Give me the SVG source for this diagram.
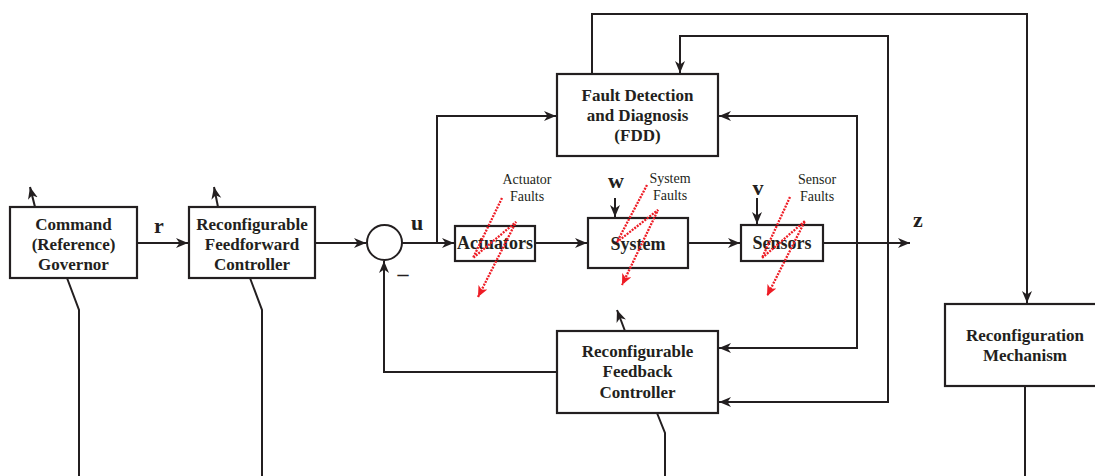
<svg xmlns="http://www.w3.org/2000/svg" width="1095" height="476" viewBox="0 0 1095 476">
<style>
.box{fill:#fff;stroke:#231f20;stroke-width:2.2}
.ln{fill:none;stroke:#231f20;stroke-width:2}
.arr{fill:none;stroke:#231f20;stroke-width:2;marker-end:url(#ah)}
.flt{fill:none;stroke:#ee1c25;stroke-width:2.3;stroke-dasharray:2 1.2;marker-end:url(#rh)}
.t{font-family:"Liberation Serif","Times New Roman",serif;font-weight:bold;font-size:17px;fill:#231f20;text-anchor:middle}
.big{font-size:18px}
.var{font-family:"Liberation Serif","Times New Roman",serif;font-weight:bold;font-size:22px;fill:#231f20;text-anchor:middle}
.f{font-family:"Liberation Serif","Times New Roman",serif;font-size:14px;fill:#231f20;text-anchor:middle}
</style>
<defs>
<marker id="ah" markerUnits="userSpaceOnUse" markerWidth="13" markerHeight="11" refX="12" refY="5" orient="auto">
<path d="M0,0 L12,5 L0,10 L3.5,5 Z" fill="#231f20"/>
</marker>
<marker id="rh" markerUnits="userSpaceOnUse" markerWidth="13" markerHeight="11" refX="11" refY="5" orient="auto">
<path d="M0,0 L11,5 L0,10 L3,5 Z" fill="#ee1c25"/>
</marker>
</defs>
<rect width="1095" height="476" fill="#fff"/>

<g id="connectors">
<line class="arr" x1="35" y1="207" x2="30" y2="187"/>
<polyline class="ln" points="67,278 79,310 79,476"/>
<line class="arr" x1="218" y1="207" x2="214" y2="187"/>
<polyline class="ln" points="250,278 262,310 262,476"/>
<line class="arr" x1="137" y1="243" x2="188" y2="243"/>
<line class="arr" x1="315" y1="243" x2="366" y2="243"/>
<line class="arr" x1="402" y1="243" x2="454" y2="243"/>
<polyline class="arr" points="437,243 437,116 556,116"/>
<line class="arr" x1="535" y1="243" x2="587" y2="243"/>
<line class="arr" x1="688" y1="243" x2="740" y2="243"/>
<line class="arr" x1="823" y1="243" x2="910" y2="243"/>
<line class="arr" x1="615" y1="198" x2="615" y2="217"/>
<line class="arr" x1="757" y1="198" x2="757" y2="224"/>
<polyline class="arr" points="592,74 592,14 1027,14 1027,303"/>
<polyline class="arr" points="888,243 888,36 680,36 680,73"/>
<polyline class="arr" points="888,243 888,402 719,402"/>
<polyline class="arr" points="857,243 857,116 719,116"/>
<polyline class="arr" points="857,243 857,348 719,348"/>
<polyline class="arr" points="557,372 384,372 384,261"/>
<line class="arr" x1="625" y1="331" x2="617" y2="310"/>
<polyline class="ln" points="657,413 665,433 665,476"/>
<line class="ln" x1="1025" y1="386" x2="1025" y2="476"/>
</g>

<g id="command">
<rect class="box" x="10" y="207" width="127" height="71"/>
<text class="t" x="73.5" y="230">Command</text>
<text class="t" x="73.5" y="250">(Reference)</text>
<text class="t" x="73.5" y="270">Governor</text>
</g>
<text class="var" x="159" y="233">r</text>

<g id="feedforward">
<rect class="box" x="189" y="207" width="126" height="71"/>
<text class="t" x="252" y="230">Reconfigurable</text>
<text class="t" x="252" y="250">Feedforward</text>
<text class="t" x="252" y="270">Controller</text>
</g>

<g id="sum">
<circle cx="384.5" cy="242.5" r="17.5" fill="#fff" stroke="#231f20" stroke-width="2"/>
<text class="var" x="403" y="281">–</text>
</g>
<text class="var" x="417" y="230">u</text>

<g id="actuators">
<rect class="box" x="455" y="226" width="80" height="35"/>
<text class="t big" x="495" y="249">Actuators</text>
</g>

<g id="system">
<rect class="box" x="588" y="218" width="100" height="50"/>
<text class="t big" x="638" y="250">System</text>
</g>
<text class="var" x="616" y="188">w</text>

<g id="sensors">
<rect class="box" x="741" y="225" width="82" height="36"/>
<text class="t big" x="782" y="249">Sensors</text>
</g>
<text class="var" x="758" y="195">v</text>
<text class="var" x="918" y="227">z</text>

<g id="fdd">
<rect class="box" x="557" y="74" width="161" height="82"/>
<text class="t" x="637.5" y="101">Fault Detection</text>
<text class="t" x="637.5" y="121">and Diagnosis</text>
<text class="t" x="637.5" y="141">(FDD)</text>
</g>

<g id="feedback">
<rect class="box" x="557" y="331" width="161" height="82"/>
<text class="t" x="637.5" y="357">Reconfigurable</text>
<text class="t" x="637.5" y="377">Feedback</text>
<text class="t" x="637.5" y="398">Controller</text>
</g>

<g id="reconfig">
<rect class="box" x="945" y="304" width="160" height="82"/>
<text class="t" x="1025" y="341">Reconfiguration</text>
<text class="t" x="1025" y="361">Mechanism</text>
</g>

<g id="faults">
<text class="f" x="527" y="184">Actuator</text>
<text class="f" x="527" y="201">Faults</text>
<polyline class="flt" points="502,198 473,258 516,222 478,297"/>
<text class="f" x="670" y="183">System</text>
<text class="f" x="670" y="200">Faults</text>
<polyline class="flt" points="647,185 617,242 658,210 622,285"/>
<text class="f" x="817" y="184">Sensor</text>
<text class="f" x="817" y="201">Faults</text>
<polyline class="flt" points="790,197 762,258 805,221 767,296"/>
</g>
</svg>
